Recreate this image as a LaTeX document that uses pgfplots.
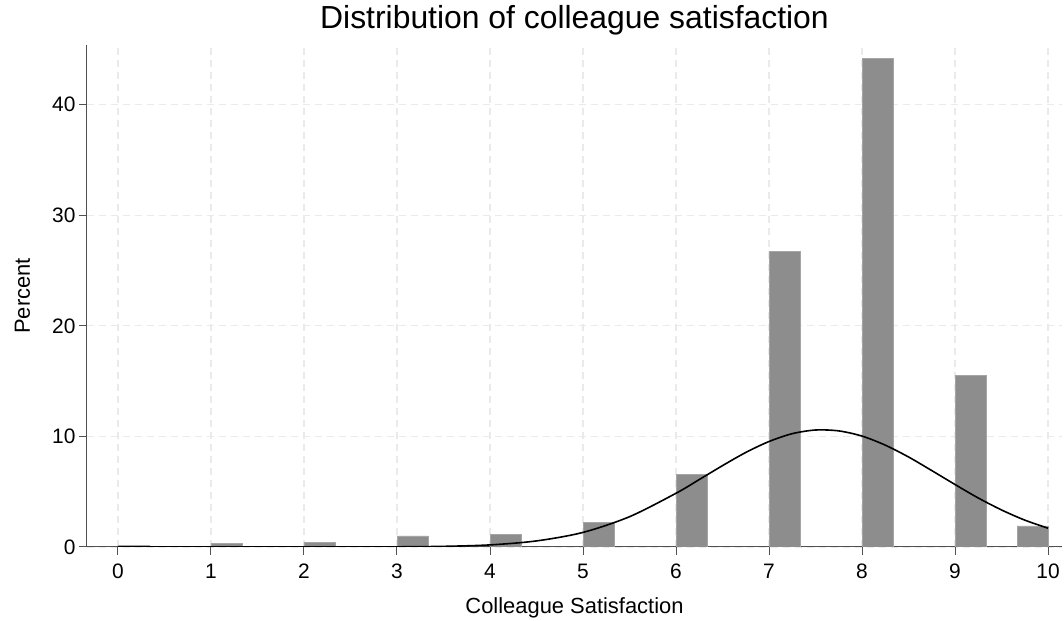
\documentclass[border=0pt]{standalone}
\usepackage{pgfplots}
\pgfplotsset{compat=1.18}
\usepackage{fontspec}
\setmainfont{Liberation Sans}
\definecolor{barfill}{RGB}{141,141,141}
\definecolor{baredge}{RGB}{165,165,165}
\definecolor{gridc}{RGB}{234,234,234}
\definecolor{axc}{RGB}{80,80,80}
\begin{document}
\begin{tikzpicture}
\begin{axis}[
  name=ax,
  scale only axis,
  width=975bp, height=502bp,
  xmin=-0.333, xmax=10.15,
  ymin=0, ymax=45.4,
  axis x line*=bottom, axis y line*=left,
  axis line style={axc, line width=1bp, -},
  xtick={0,1,...,10},
  ytick={0,10,20,30,40},
  tick align=outside,
  major tick length=8bp,
  tick style={axc, line width=1bp},
  grid=major,
  major grid style={gridc, line width=1.3bp, dash pattern=on 7bp off 5bp},
  /pgf/number format/assume math mode=true,
  ticklabel style={font=\fontsize{21}{25}\selectfont},
  xticklabel style={anchor=north, text height=15bp, text depth=0bp, yshift=-5bp},
  title={Distribution of colleague satisfaction},
  title style={at={(axis description cs:0.5,1.0219)}, anchor=base, font=\fontsize{32}{37}\selectfont},
  xlabel={Colleague Satisfaction},
  xlabel style={at={(axis description cs:0.5,-0.1315)}, anchor=base, font=\fontsize{22}{26}\selectfont},
  ylabel={Percent},
  ylabel style={at={(axis description cs:-0.0585,0.5)}, anchor=base, font=\fontsize{22}{26}\selectfont},
]
\addplot[ybar, bar width=0.3333, fill=barfill, draw=baredge, line width=0.8bp] coordinates {
  (0.1667,0.1) (1.1667,0.3) (2.1667,0.4) (3.1667,1.0) (4.1667,1.1)
  (5.1667,2.2) (6.1667,6.6) (7.1667,26.7) (8.1667,44.2) (9.1667,15.5)
  (9.8333,1.9)
};
\addplot[black, line width=1.6bp, smooth] coordinates {
  (0,0) (1,0) (2,0.001) (2.5,0.003) (3,0.015) (3.5,0.058) (4,0.19) (4.5,0.55)
  (5,1.32) (5.5,2.74) (6,4.86) (6.25,6.10) (6.5,7.36) (6.75,8.55)
  (7,9.54) (7.25,10.25) (7.5,10.58) (7.75,10.50) (8,10.03) (8.25,9.21)
  (8.5,8.14) (8.75,6.91) (9,5.65) (9.25,4.43) (9.5,3.35) (9.75,2.43) (10,1.70)
};
\end{axis}
\path ([xshift=-87bp,yshift=-72bp]ax.south west) rectangle ([xshift=2bp,yshift=45bp]ax.north east);
\end{tikzpicture}
\end{document}
